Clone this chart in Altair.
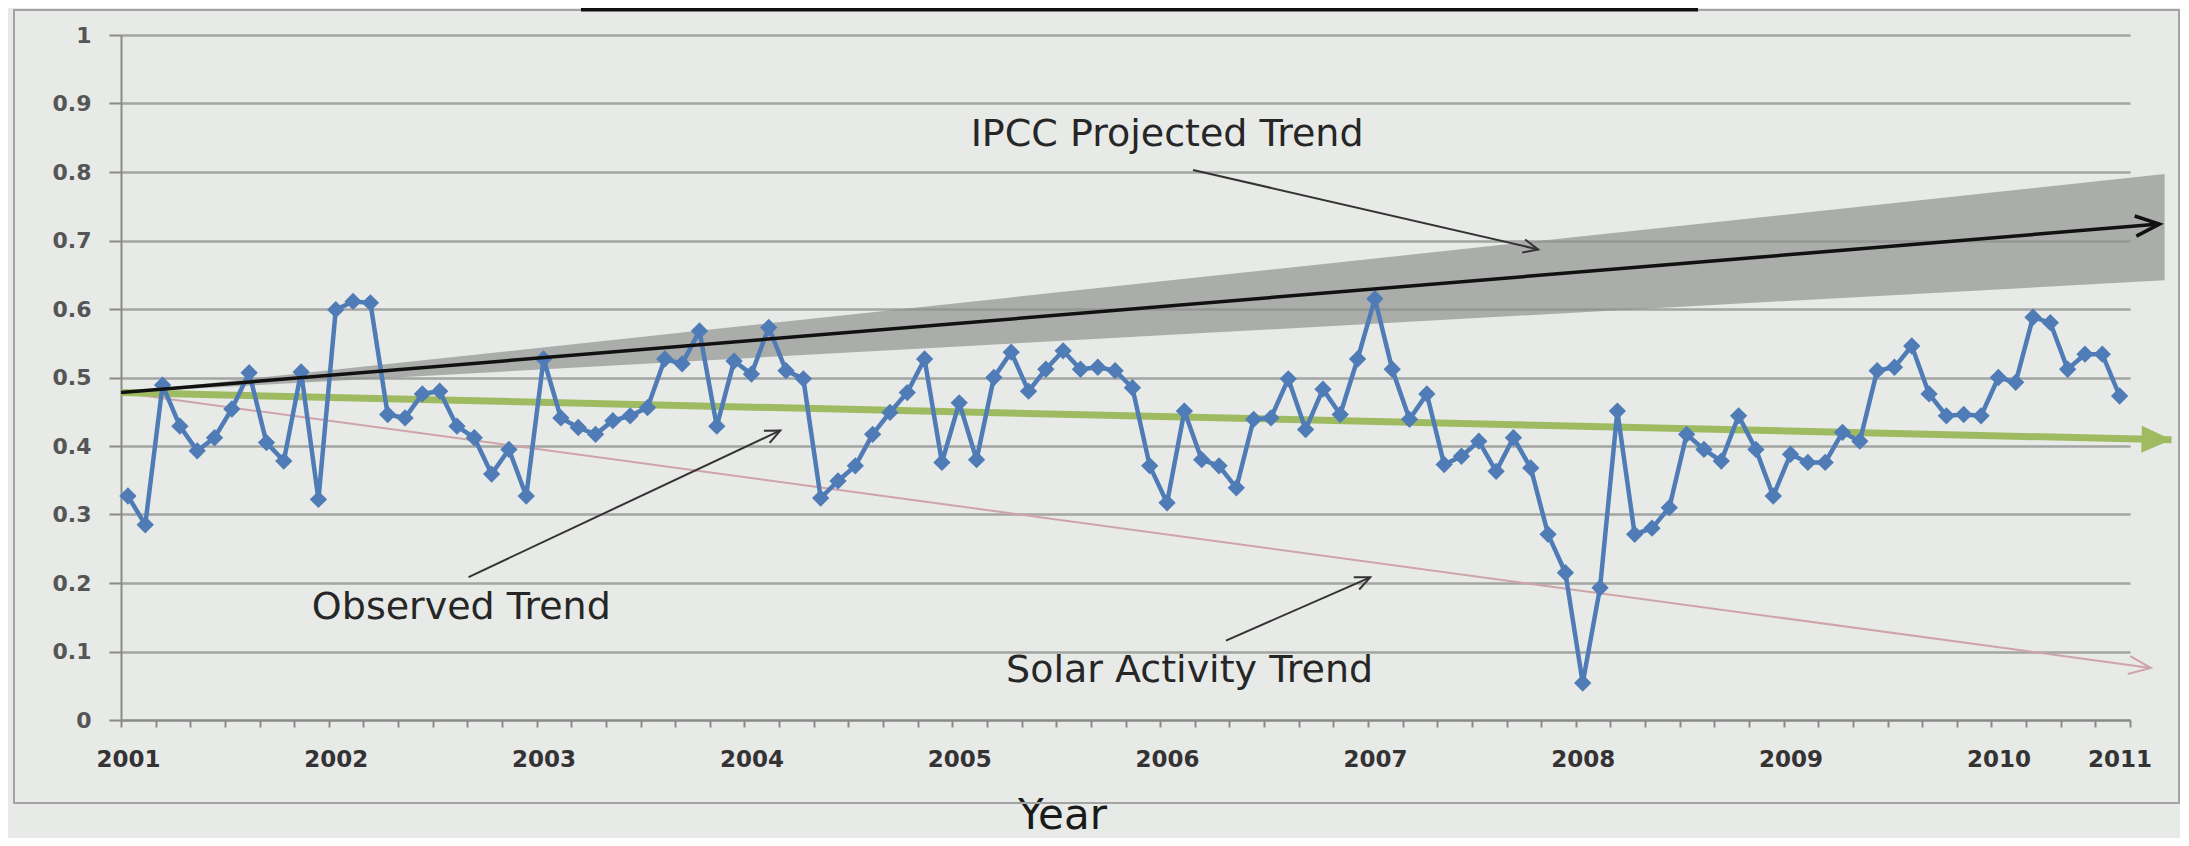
import math
import altair as alt
import pandas as pd

# ---- data ----
observed = [0.327, 0.285, 0.489, 0.429, 0.393, 0.412, 0.454, 0.507, 0.405, 0.378, 0.508, 0.322,
            0.599, 0.611, 0.609, 0.446, 0.441, 0.476, 0.480, 0.429, 0.412, 0.359, 0.395, 0.327,
            0.527, 0.441, 0.427, 0.417, 0.437, 0.444, 0.456, 0.527, 0.520, 0.568, 0.429, 0.524,
            0.505, 0.573, 0.510, 0.498, 0.324, 0.349, 0.371, 0.417, 0.449, 0.478, 0.527, 0.376,
            0.463, 0.380, 0.500, 0.537, 0.480, 0.512, 0.539, 0.512, 0.515, 0.510, 0.485, 0.371,
            0.317, 0.451, 0.380, 0.371, 0.339, 0.439, 0.441, 0.498, 0.424, 0.483, 0.446, 0.527,
            0.615, 0.512, 0.439, 0.476, 0.373, 0.385, 0.407, 0.363, 0.412, 0.368, 0.271, 0.215,
            0.054, 0.193, 0.451, 0.271, 0.280, 0.310, 0.417, 0.395, 0.378, 0.444, 0.395, 0.327,
            0.388, 0.376, 0.376, 0.420, 0.407, 0.510, 0.515, 0.546, 0.476, 0.444, 0.446, 0.444,
            0.500, 0.493, 0.588, 0.580, 0.512, 0.534, 0.534, 0.473]

year_labels = ["2001", "2002", "2003", "2004", "2005", "2006", "2007", "2008", "2009", "2010", "2011"]
year_label_idx = [0, 12, 24, 36, 48, 60, 72, 84, 96, 108, 115]

# trend lines (month index, value)
ipcc_i = [-0.4, 117.3]
ipcc_v = [0.478, 0.724]
band_i = [-0.4, 117.6]
band_hi = [0.478, 0.797]
band_lo = [0.478, 0.642]
obs_trend_i = [-0.4, 118.0]
obs_trend_v = [0.478, 0.409]
solar_i = [-0.4, 116.8]
solar_v = [0.478, 0.076]

# annotation texts and pointer arrows
note_text = ["IPCC Projected Trend", "Observed Trend", "Solar Activity Trend"]
note_i = [60.0, 19.25, 61.3]
note_v = [0.854, 0.163, 0.071]
arrow_i1 = [61.5, 19.67, 63.4]
arrow_v1 = [0.803, 0.2087, 0.1159]
arrow_i2 = [81.43, 37.67, 71.73]
arrow_v2 = [0.687, 0.4227, 0.2083]

# ---- layout ----
W, H = 2009, 685
DOM = [-0.4, 115.6]
NM = DOM[1] - DOM[0]
BG = "#e7eae6"
FONT = "DejaVu Sans"
AXIS_GREY = "#8a8a8a"


def screen_angle(i1, v1, i2, v2):
    dx = (i2 - i1) * W / NM
    dy = -(v2 - v1) * H
    return math.degrees(math.atan2(dy, dx)) % 360


xs = alt.Scale(domain=DOM, nice=False, zero=False)
ys = alt.Scale(domain=[0, 1], nice=False, zero=False)

tick_vals = [round(-0.4 + 2 * k, 1) for k in range(59)]
label_expr = ""
for idx, lab in zip(year_label_idx, year_labels):
    label_expr += f"datum.value == {idx} ? '{lab}' : "
label_expr += "''"

x_tick_axis = alt.Axis(
    orient="bottom",
    values=tick_vals,
    labels=False,
    tickSize=7,
    tickWidth=2,
    tickColor=AXIS_GREY,
    domainColor=AXIS_GREY,
    domainWidth=2,
    grid=False,
    title=None,
)

x_label_axis = alt.Axis(
    orient="bottom",
    values=year_label_idx,
    labelExpr=label_expr,
    labelOverlap=False,
    labelFlush=False,
    ticks=False,
    domain=False,
    grid=False,
    labelFont=FONT,
    labelFontWeight="bold",
    labelFontSize=23,
    labelColor="#333333",
    labelPadding=28,
    title="Year",
    titleX=941,
    titleY=108,
    titleAlign="center",
    titleBaseline="alphabetic",
    titleFont=FONT,
    titleFontSize=42,
    titleFontWeight="normal",
    titleColor="#1a1a1a",
)

y_axis = alt.Axis(
    values=[round(0.1 * k, 1) for k in range(11)],
    format=".1~f",
    grid=True,
    gridColor="#a2a5a2",
    gridWidth=2.5,
    tickSize=12,
    tickWidth=2,
    tickColor=AXIS_GREY,
    domainColor=AXIS_GREY,
    domainWidth=2,
    labelFont=FONT,
    labelFontWeight="bold",
    labelFontSize=22,
    labelColor="#555555",
    labelPadding=18,
    title=None,
)

obs_df = pd.DataFrame({"month": list(range(len(observed))), "value": observed})
band_df = pd.DataFrame({"month": band_i, "hi": band_hi, "lo": band_lo})
seg_df = pd.DataFrame({
    "name": ["ipcc", "observed", "solar"],
    "i1": [ipcc_i[0], obs_trend_i[0], solar_i[0]],
    "v1": [ipcc_v[0], obs_trend_v[0], solar_v[0]],
    "i2": [ipcc_i[1], obs_trend_i[1], solar_i[1]],
    "v2": [ipcc_v[1], obs_trend_v[1], solar_v[1]],
})
seg_df["ang"] = [screen_angle(a, b, c, d) for a, b, c, d in zip(seg_df.i1, seg_df.v1, seg_df.i2, seg_df.v2)]
arrow_df = pd.DataFrame({"i1": arrow_i1, "v1": arrow_v1, "i2": arrow_i2, "v2": arrow_v2})
arrow_df["ang"] = [screen_angle(a, b, c, d) for a, b, c, d in zip(arrow_i1, arrow_v1, arrow_i2, arrow_v2)]
note_df = pd.DataFrame({"text": note_text, "month": note_i, "value": note_v})
one = pd.DataFrame({"a": [0]})


def X(f):
    return alt.X(f, scale=xs, axis=None)


def Y(f):
    return alt.Y(f, scale=ys)


# frame around the whole chart and the title underline cut at the top
frame = alt.Chart(one).mark_rect(fillOpacity=0, stroke="#a3a3a3", strokeWidth=2).encode(
    x=alt.value(-107), x2=alt.value(2058), y=alt.value(-25), y2=alt.value(768)
)
title_bar = alt.Chart(one).mark_rule(color="#111111", strokeWidth=5).encode(
    x=alt.value(460), x2=alt.value(1577), y=alt.value(-26)
)

tick_layer = alt.Chart(obs_df).mark_line(opacity=0).encode(
    x=alt.X("month:Q", scale=xs, axis=x_tick_axis),
    y=alt.Y("value:Q", scale=ys, axis=y_axis),
)
label_layer = alt.Chart(obs_df).mark_line(opacity=0).encode(
    x=alt.X("month:Q", scale=xs, axis=x_label_axis),
    y=Y("value:Q"),
)

band = alt.Chart(band_df).mark_area(color="#8e908e", opacity=0.68, clip=False).encode(
    x=X("month:Q"), y=Y("hi:Q"), y2="lo:Q",
)


def seg_layer(name, color, width):
    d = seg_df[seg_df.name == name]
    return alt.Chart(d).mark_rule(color=color, strokeWidth=width, clip=False).encode(
        x=X("i1:Q"), y=Y("v1:Q"), x2="i2:Q", y2="v2:Q",
    )


def head_layer(name, color, shape, size, filled, width):
    d = seg_df[seg_df.name == name]
    kw = dict(shape=shape, size=size, filled=filled, strokeWidth=width, clip=False, opacity=1)
    if filled:
        kw["color"] = color
    else:
        kw["stroke"] = color
        kw["strokeJoin"] = "miter"
    return alt.Chart(d).mark_point(**kw).encode(
        x=X("i2:Q"), y=Y("v2:Q"), angle=alt.Angle("ang:Q", scale=None),
    )


solar_line = seg_layer("solar", "#cfa3aa", 2)
solar_head = head_layer("solar", "#cfa3aa", "M-1,-0.41L0,0L-1,0.41", 1936, False, 2)
green_line = seg_layer("observed", "#9fbb62", 7)
green_head = head_layer("observed", "#9fbb62", "M-1,-0.45L0,0L-1,0.45Z", 3600, True, 1)

obs_line = alt.Chart(obs_df).mark_line(color="#4f7cb6", strokeWidth=4.5).encode(
    x=X("month:Q"), y=Y("value:Q"),
)
obs_pts = alt.Chart(obs_df).mark_point(shape="diamond", filled=True, size=300, color="#4f7cb6", opacity=1).encode(
    x=X("month:Q"), y=Y("value:Q"),
)

ipcc_line = seg_layer("ipcc", "#111111", 3.5)
ipcc_head = head_layer("ipcc", "#111111", "M-1,-0.42L0,0L-1,0.42", 2304, False, 3.5)

arrow_lines = alt.Chart(arrow_df).mark_rule(color="#333333", strokeWidth=2).encode(
    x=X("i1:Q"), y=Y("v1:Q"), x2="i2:Q", y2="v2:Q",
)
arrow_heads = alt.Chart(arrow_df).mark_point(
    shape="M-1,-0.45L0,0L-1,0.45", size=900, filled=False, stroke="#333333", strokeWidth=2, opacity=1
).encode(
    x=X("i2:Q"), y=Y("v2:Q"), angle=alt.Angle("ang:Q", scale=None),
)

notes = alt.Chart(note_df).mark_text(font=FONT, fontSize=38, color="#262626", align="center", baseline="middle").encode(
    x=X("month:Q"), y=Y("value:Q"), text="text:N",
)

chart = alt.layer(
    tick_layer, label_layer, frame, title_bar, band, solar_line, solar_head, green_line, green_head,
    obs_line, obs_pts, ipcc_line, ipcc_head, arrow_lines, arrow_heads, notes,
).resolve_axis(x="independent").properties(
    width=W,
    height=H,
    background=BG,
    padding={"left": 113, "top": 27, "right": 50, "bottom": 118},
    autosize=alt.AutoSizeParams(type="none"),
).configure(font=FONT).configure_view(strokeWidth=0)

chart.save("out.html", embed_options={"renderer": "svg", "actions": False})
